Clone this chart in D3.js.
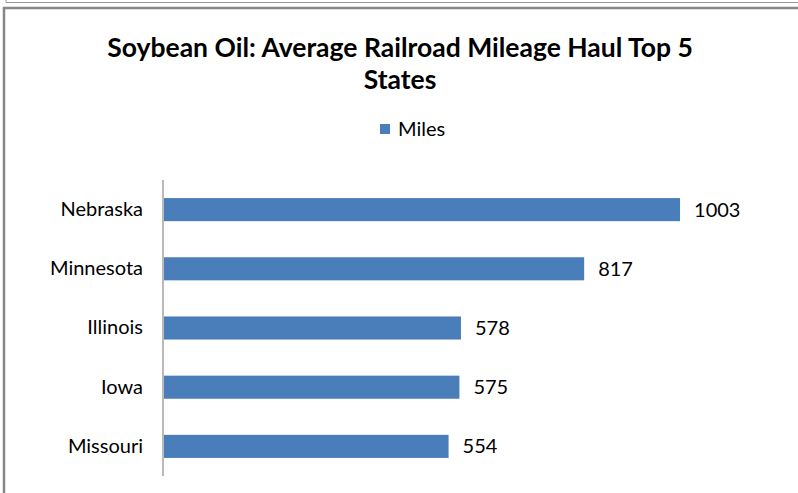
<!DOCTYPE html>
<html>
<head>
<meta charset="utf-8">
<script src="https://cdn.jsdelivr.net/npm/d3@7"></script>
<style>
  html, body { margin: 0; padding: 0; background: #fff; }
  svg { display: block; }
  text { font-family: Lato, "Open Sans", sans-serif; fill: #000; }
</style>
</head>
<body>
<script>
// Average railroad haul distance for soybean oil, top five origin states
const states = ["Nebraska", "Minnesota", "Illinois", "Iowa", "Missouri"];
const miles = [1003, 817, 578, 575, 554];
const seriesName = "Miles";
const titleLines = ["Soybean Oil: Average Railroad Mileage Haul Top 5", "States"];

const W = 798, H = 493;
const barColor = "#4a7ebb";
const labelSize = "20px";

const svg = d3.select("body").append("svg")
  .attr("width", W).attr("height", H);

// outer frame lines
svg.append("path")
  .attr("d", "M6,0 V2.5 H798")
  .attr("fill", "none").attr("stroke", "#9a9a9a").attr("stroke-width", 1);
svg.append("path")
  .attr("d", "M4,493 V8 H798")
  .attr("fill", "none").attr("stroke", "#878787").attr("stroke-width", 2.5);

// title
const title = svg.append("text")
  .attr("text-anchor", "middle")
  .style("font-weight", "bold")
  .style("font-size", "26.5px");
titleLines.forEach((t, i) => {
  title.append("tspan")
    .attr("x", 400)
    .attr("y", 57 + i * 32)
    .text(t);
});

// legend
const legend = svg.append("g").attr("transform", "translate(380,124)");
legend.append("rect").attr("width", 10).attr("height", 10).attr("fill", barColor);
legend.append("text")
  .attr("x", 18).attr("y", 5).attr("dy", "0.35em")
  .style("font-size", labelSize)
  .text(seriesName);

// scales
const x = d3.scaleLinear().domain([0, 1200]).range([163, 163 + 1200 * 0.5155]);
const y = d3.scaleBand().domain(states).range([180, 476]).paddingInner(0.61).paddingOuter(0.305);

// category axis
const yAxis = svg.append("g")
  .attr("transform", `translate(${x(0)},0)`)
  .call(d3.axisLeft(y).tickSize(0).tickPadding(20));
yAxis.select(".domain").attr("stroke", "#8c8c8c").attr("stroke-width", 1.2)
  .attr("d", `M0,${y.range()[0]}V${y.range()[1]}`);
yAxis.selectAll(".tick text")
  .style("font-family", "Lato, 'Open Sans', sans-serif")
  .style("font-size", labelSize)
  .attr("fill", "#000");

// bars
const rows = states.map((s, i) => ({ state: s, value: miles[i] }));
svg.append("g").selectAll("rect").data(rows).join("rect")
  .attr("x", x(0) + 1)
  .attr("y", d => y(d.state))
  .attr("width", d => x(d.value) - x(0) - 1)
  .attr("height", y.bandwidth())
  .attr("fill", barColor);

// value labels
svg.append("g").selectAll("text").data(rows).join("text")
  .attr("x", d => x(d.value) + 14)
  .attr("y", d => y(d.state) + y.bandwidth() / 2)
  .attr("dy", "0.35em")
  .style("font-size", labelSize)
  .text(d => d.value);
</script>
</body>
</html>
